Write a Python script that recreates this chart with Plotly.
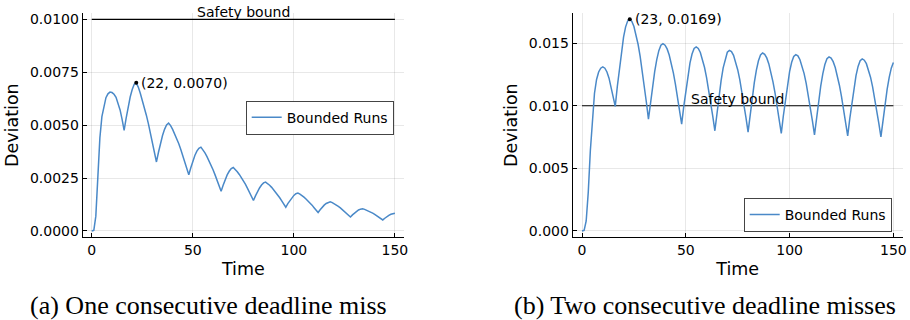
import plotly.graph_objects as go

# ---------------- data ----------------
time = list(range(0, 151))

dev_one_miss = [
    0.0, 0.00003, 0.0007, 0.0028, 0.0044, 0.0054, 0.0059, 0.0063, 0.00648, 0.00656,
    0.00654, 0.00646, 0.00632, 0.00604, 0.00572, 0.00527, 0.00475,
    0.00533, 0.00586, 0.00633, 0.00668, 0.00693, 0.00700, 0.00680, 0.00651, 0.00619,
    0.00584, 0.00547, 0.00507, 0.00464, 0.00419, 0.00373, 0.00326,
    0.00372, 0.00414, 0.00451, 0.00480, 0.00501, 0.00510, 0.00498, 0.00480, 0.00460,
    0.00437, 0.00413, 0.00386, 0.00358, 0.00328, 0.00298, 0.00266,
    0.00299, 0.00330, 0.00357, 0.00377, 0.00391, 0.00396, 0.00385, 0.00369, 0.00351,
    0.00332, 0.00311, 0.00289, 0.00265, 0.00240, 0.00214, 0.00188,
    0.00216, 0.00242, 0.00265, 0.00282, 0.00295, 0.00300, 0.00292, 0.00280, 0.00267,
    0.00253, 0.00237, 0.00221, 0.00202, 0.00184, 0.00164, 0.00144,
    0.00166, 0.00186, 0.00203, 0.00217, 0.00227, 0.00231, 0.00225, 0.00216, 0.00206,
    0.00195, 0.00183, 0.00171, 0.00157, 0.00142, 0.00127, 0.00112,
    0.00129, 0.00144, 0.00158, 0.00168, 0.00176, 0.00179, 0.00174, 0.00168, 0.00160,
    0.00151, 0.00142, 0.00132, 0.00122, 0.00110, 0.00099, 0.00087,
    0.00100, 0.00112, 0.00122, 0.00130, 0.00136, 0.00138, 0.00134, 0.00129, 0.00123,
    0.00116, 0.00109, 0.00101, 0.00093, 0.00084, 0.00075, 0.00066,
    0.00076, 0.00085, 0.00093, 0.00099, 0.00103, 0.00105, 0.00102, 0.00098, 0.00094,
    0.00089, 0.00084, 0.00078, 0.00072, 0.00066, 0.00059, 0.00052,
    0.00060, 0.00068, 0.00074, 0.00079, 0.00083, 0.00084,
]

dev_two_miss = [
    0.0, 0.00005, 0.0008, 0.0031, 0.0064, 0.0089, 0.0110, 0.0121, 0.0127, 0.0130,
    0.0131, 0.0130, 0.0127, 0.0122, 0.0115, 0.0107, 0.00995,
    0.01154, 0.01303, 0.01437, 0.01548, 0.01630, 0.01678, 0.01690, 0.01673, 0.01633,
    0.01572, 0.01491, 0.01394, 0.01282, 0.01159, 0.01028, 0.00893,
    0.01029, 0.01157, 0.01272, 0.01368, 0.01440, 0.01483, 0.01496, 0.01484, 0.01454,
    0.01405, 0.01341, 0.01262, 0.01171, 0.01070, 0.00964, 0.00853,
    0.00993, 0.01124, 0.01242, 0.01340, 0.01413, 0.01457, 0.01470, 0.01457, 0.01425,
    0.01374, 0.01307, 0.01225, 0.01130, 0.01026, 0.00915, 0.00800,
    0.00944, 0.01079, 0.01201, 0.01303, 0.01379, 0.01427, 0.01442, 0.01432, 0.01402,
    0.01354, 0.01288, 0.01208, 0.01115, 0.01012, 0.00903, 0.00790,
    0.00931, 0.01065, 0.01184, 0.01284, 0.01359, 0.01406, 0.01421, 0.01411, 0.01382,
    0.01334, 0.01270, 0.01191, 0.01100, 0.00999, 0.00891, 0.00780,
    0.00920, 0.01053, 0.01172, 0.01272, 0.01347, 0.01393, 0.01408, 0.01398, 0.01368,
    0.01321, 0.01257, 0.01178, 0.01087, 0.00986, 0.00879, 0.00768,
    0.00907, 0.01039, 0.01156, 0.01255, 0.01329, 0.01375, 0.01390, 0.01380, 0.01352,
    0.01305, 0.01242, 0.01164, 0.01074, 0.00975, 0.00869, 0.00760,
    0.00897, 0.01027, 0.01143, 0.01241, 0.01314, 0.01359, 0.01374, 0.01364, 0.01336,
    0.01290, 0.01228, 0.01151, 0.01062, 0.00964, 0.00860, 0.00752,
    0.00886, 0.01015, 0.01130, 0.01227, 0.01300, 0.01345,
]

safety_bound = 0.010
bound_span = [0, 150]
bound_label_x = 75

peak_one = (22, 0.0070)
peak_two = (23, 0.0169)

x_ticks = [0, 50, 100, 150]
y_ticks_one = [0.0, 0.0025, 0.0050, 0.0075, 0.0100]
y_tick_text_one = ["0.0000", "0.0025", "0.0050", "0.0075", "0.0100"]
y_ticks_two = [0.0, 0.005, 0.010, 0.015]
y_tick_text_two = ["0.000", "0.005", "0.010", "0.015"]

series_name = "Bounded Runs"
captions = ["(a) One consecutive deadline miss", "(b) Two consecutive deadline misses"]

# ---------------- style ----------------
LINE = "#4a89c8"
SANS = "DejaVu Sans"
SERIF = "Liberation Serif"
W, H = 910, 320

def px_x(p):
    return p / W

def px_y(p):
    return 1 - p / H

fig = go.Figure()

for i, (vals, peak) in enumerate([(dev_one_miss, peak_one), (dev_two_miss, peak_two)]):
    xa = "x" if i == 0 else "x2"
    ya = "y" if i == 0 else "y2"
    fig.add_trace(go.Scatter(
        x=bound_span, y=[safety_bound, safety_bound], mode="lines",
        line=dict(color="black", width=1.2), showlegend=False, hoverinfo="skip",
        xaxis=xa, yaxis=ya))
    fig.add_trace(go.Scatter(
        x=time, y=vals, mode="lines", name=series_name,
        line=dict(color=LINE, width=1.5),
        legend="legend" if i == 0 else "legend2",
        xaxis=xa, yaxis=ya))
    fig.add_trace(go.Scatter(
        x=[peak[0]], y=[peak[1]], mode="markers",
        marker=dict(color="black", size=4), showlegend=False,
        xaxis=xa, yaxis=ya))
    fig.add_annotation(
        x=peak[0], y=peak[1], xref=xa, yref=ya,
        text=f"({peak[0]}, {peak[1]:.4f})", showarrow=False,
        xanchor="left", yanchor="middle", xshift=3,
        font=dict(family=SANS, size=14, color="black"))
    fig.add_annotation(
        x=bound_label_x, y=safety_bound, xref=xa, yref=ya,
        text="Safety bound", showarrow=False,
        xanchor="center", yanchor="bottom", yshift=-3,
        font=dict(family=SANS, size=14, color="black"))

axis_common = dict(
    showline=True, linecolor="black", linewidth=1,
    showgrid=True, gridcolor="rgba(0,0,0,0.09)", gridwidth=1,
    zeroline=False, ticks="inside", ticklen=4, tickcolor="black",
    tickfont=dict(family=SANS, size=14, color="black"),
    mirror=False, automargin=False,
)

y_dom = [px_y(237.3), px_y(13)]

fig.update_layout(
    width=W, height=H,
    margin=dict(l=0, r=0, t=0, b=0, autoexpand=False),
    paper_bgcolor="white", plot_bgcolor="white",
    font=dict(family=SANS, color="black"),
    xaxis=dict(domain=[px_x(82.7), px_x(404)], range=[-4.5, 154.5],
               tickvals=x_ticks, anchor="y",
               title=dict(text="Time", font=dict(family=SANS, size=17.5), standoff=5),
               **axis_common),
    yaxis=dict(domain=y_dom, range=[-0.0003, 0.0103],
               tickvals=y_ticks_one, ticktext=y_tick_text_one, anchor="x",
               title=dict(text="Deviation", font=dict(family=SANS, size=17.5), standoff=6),
               **axis_common),
    xaxis2=dict(domain=[px_x(572.7), px_x(902.7)], range=[-4.5, 154.5],
                tickvals=x_ticks, anchor="y2",
                title=dict(text="Time", font=dict(family=SANS, size=17.5), standoff=5),
                **axis_common),
    yaxis2=dict(domain=y_dom, range=[-0.000507, 0.017407],
                tickvals=y_ticks_two, ticktext=y_tick_text_two, anchor="x2",
                title=dict(text="Deviation", font=dict(family=SANS, size=17.5), standoff=6),
                **axis_common),
    legend=dict(x=px_x(393.7), y=px_y(117.7), xanchor="right", yanchor="middle",
                bgcolor="white", bordercolor="#444", borderwidth=1,
                font=dict(family=SANS, size=14, color="black"), itemwidth=30),
    legend2=dict(x=px_x(891.7), y=px_y(215), xanchor="right", yanchor="middle",
                 bgcolor="white", bordercolor="#444", borderwidth=1,
                 font=dict(family=SANS, size=14, color="black"), itemwidth=30),
    showlegend=True,
)

for cx, cap in zip([208, 705], captions):
    fig.add_annotation(
        x=px_x(cx), y=px_y(305.7), xref="paper", yref="paper",
        text=cap, showarrow=False, xanchor="center", yanchor="middle",
        font=dict(family=SERIF, size=26, color="black"))

fig.write_html(
    "out.html",
    config={"displayModeBar": False},
    post_script="document.body.style.margin='0';document.body.style.padding='0';"
                "document.documentElement.style.overflow='hidden';",
)
